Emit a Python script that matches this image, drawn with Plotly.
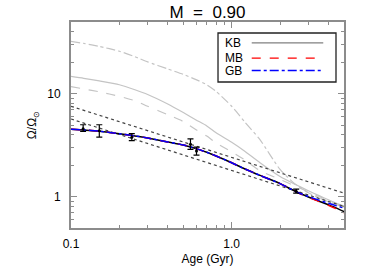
import plotly.graph_objects as go

# ---------------- data ----------------
ages = [0.1, 0.12, 0.15, 0.2, 0.25, 0.3, 0.4, 0.5, 0.6, 0.7, 0.8, 1.0,
        1.2, 1.5, 2.0, 2.5, 3.0, 3.5, 4.0, 4.5, 5.0]

kb_fit = [4.55, 4.48, 4.35, 4.12, 3.92, 3.74, 3.42, 3.2, 2.95, 2.72, 2.5, 2.15,
          1.88, 1.62, 1.35, 1.13, 1.0, 0.91, 0.84, 0.78, 0.72]
mb_fit = [4.55, 4.48, 4.35, 4.12, 3.92, 3.74, 3.42, 3.2, 2.95, 2.72, 2.5, 2.15,
          1.88, 1.62, 1.35, 1.13, 0.99, 0.905, 0.83, 0.765, 0.70]
gb_fit = [4.55, 4.48, 4.35, 4.12, 3.92, 3.74, 3.42, 3.2, 2.95, 2.72, 2.5, 2.15,
          1.88, 1.62, 1.35, 1.13, 1.01, 0.93, 0.87, 0.82, 0.78]

kb_alt = [14.8, 14.2, 13.4, 12.3, 11.0, 9.9, 8.0, 6.6, 5.6, 4.9, 4.2, 3.4,
          2.8, 2.15, 1.58, 1.32, 1.15, 1.03, 0.94, 0.87, 0.82]
mb_alt = [11.8, 11.2, 10.5, 9.5, 8.6, 7.6, 6.3, 5.4, 4.5, 3.9, 3.34, 2.75,
          2.3, 1.8, 1.48, 1.27, 1.12, 1.01, 0.93, 0.86, 0.80]
gb_alt = [32.4, 31.0, 29.0, 26.0, 23.0, 20.5, 17.5, 15.5, 13.8, 12.3, 10.6, 7.6,
          5.4, 3.6, 1.85, 1.32, 1.10, 0.98, 0.90, 0.84, 0.80]

sk_ages = [0.1, 5.0]
sk_upper = [7.6, 1.09]
sk_lower = [5.72, 0.81]

obs_age = [0.119, 0.150, 0.239, 0.554, 0.604, 2.52]
obs_omega = [4.6, 4.4, 3.8, 3.25, 2.8, 1.14]
obs_hi = [5.03, 5.03, 4.12, 3.66, 3.05, 1.195]
obs_lo = [4.34, 3.82, 3.52, 2.9, 2.55, 1.09]

x_tickvals = [0.1, 1.0]
x_ticktext = ["0.1", "1.0"]
y_tickvals = [1, 10]
y_ticktext = ["1", "10"]

legend_names = ["KB", "MB", "GB"]
legend_colors = ["#808080", "#ff0000", "#0000ff"]
legend_dashes = ["solid", "dash", "dashdot"]

title_text = "M\u00a0\u00a0=\u00a0\u00a00.90"
# --------------------------------------

FONT = "Liberation Sans, Arial, Helvetica, sans-serif"
LIGHT = "#c4c4c4"

fig = go.Figure()

for ys, dash in [(kb_alt, "solid"), (mb_alt, "dash"), (gb_alt, "dashdot")]:
    fig.add_trace(go.Scatter(x=ages, y=ys, mode="lines",
                             line=dict(color=LIGHT, width=1.2, dash=dash,
                                       shape="spline", smoothing=0.6),
                             showlegend=False, hoverinfo="skip"))

for ys in [sk_upper, sk_lower]:
    fig.add_trace(go.Scatter(x=sk_ages, y=ys, mode="lines",
                             line=dict(color="#444444", width=1.2, dash="dot"),
                             showlegend=False, hoverinfo="skip"))

fig.add_trace(go.Scatter(x=ages, y=kb_fit, mode="lines",
                         line=dict(color="black", width=1.5, shape="spline", smoothing=0.6),
                         showlegend=False))
fig.add_trace(go.Scatter(x=ages, y=mb_fit, mode="lines",
                         line=dict(color="#ff0000", width=1.5, dash="dash",
                                   shape="spline", smoothing=0.6), showlegend=False))
fig.add_trace(go.Scatter(x=ages, y=gb_fit, mode="lines",
                         line=dict(color="#0000ff", width=1.5, dash="dashdot",
                                   shape="spline", smoothing=0.6), showlegend=False))

fig.add_trace(go.Scatter(
    x=obs_age, y=obs_omega, mode="markers",
    marker=dict(color="black", size=3),
    error_y=dict(type="data", symmetric=False,
                 array=[h - v for h, v in zip(obs_hi, obs_omega)],
                 arrayminus=[v - l for l, v in zip(obs_lo, obs_omega)],
                 color="black", thickness=1.2, width=3),
    showlegend=False))

# manual legend (text left of line sample, as in the original)
shapes = [dict(type="rect", xref="paper", yref="paper",
               x0=0.5385, x1=0.9707, y0=0.7087, y1=0.9466,
               line=dict(color="#222222", width=1.3), fillcolor="white", layer="above")]
annotations = []
row_y = [0.8985, 0.8245, 0.7645]
for name, col, dash, yy in zip(legend_names, legend_colors, legend_dashes, row_y):
    shapes.append(dict(type="line", xref="paper", yref="paper",
                       x0=0.662, x1=0.924, y0=yy, y1=yy,
                       line=dict(color=col, width=1.3, dash=dash), layer="above"))
    annotations.append(dict(text=name, xref="paper", yref="paper",
                            x=0.555, y=yy, xanchor="left", yanchor="middle",
                            showarrow=False, font=dict(size=12, color="black", family=FONT)))

axis_common = dict(type="log", showgrid=False, zeroline=False, showline=True,
                   linecolor="#8c8c8c", linewidth=1.8, mirror="ticks",
                   ticks="inside", ticklen=6, tickwidth=1, tickcolor="#8c8c8c",
                   automargin=False,
                   tickfont=dict(size=12, color="black", family=FONT))

fig.update_layout(
    width=366, height=274,
    margin=dict(l=71, r=22, t=22, b=46, autoexpand=False),
    paper_bgcolor="white", plot_bgcolor="white",
    font=dict(family=FONT, color="black", size=12),
    title=dict(text=title_text, xref="paper", x=0.5, xanchor="center",
               yref="container", y=0.955, yanchor="middle",
               font=dict(size=17, family=FONT, color="black")),
    xaxis=dict(**axis_common, range=[-1, 0.69897],
               tickmode="array", tickvals=x_tickvals, ticktext=x_ticktext,
               minor=dict(ticks="inside", ticklen=3, tickcolor="#8c8c8c",
                          tickvals=[0.2, 0.3, 0.4, 0.5, 0.6, 0.7, 0.8, 0.9, 2, 3, 4]),
               title=dict(text="Age (Gyr)", standoff=4, font=dict(size=12, family=FONT)),
               ticklabelstandoff=4),
    yaxis=dict(**axis_common, range=[-0.30103, 1.69897],
               tickmode="array", tickvals=y_tickvals, ticktext=y_ticktext,
               minor=dict(ticks="inside", ticklen=3, tickcolor="#8c8c8c",
                          tickvals=[0.6, 0.7, 0.8, 0.9, 2, 3, 4, 5, 6, 7, 8, 9,
                                    20, 30, 40]),
               title=dict(text="Ω/Ω<sub>⊙</sub>", standoff=8, font=dict(size=12, family=FONT)),
               ticklabelstandoff=6),
    shapes=shapes, annotations=annotations,
)

fig.write_html("out.html", config={"displayModeBar": False},
               post_script="document.body.style.margin='0';")
